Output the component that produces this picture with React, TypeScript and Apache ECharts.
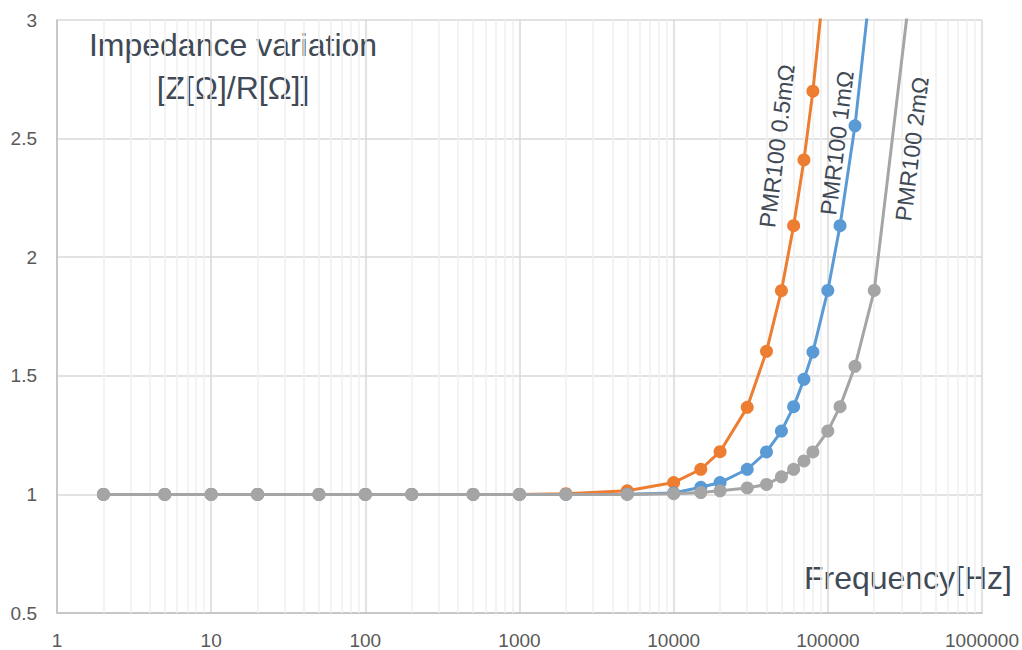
import React, { useEffect, useRef } from "react";
import * as echarts from "echarts";

const freqLow = [2, 5, 10, 20, 50, 100, 200, 500, 1000, 2000, 5000, 10000];

const freqA = [...freqLow, 15000, 20000, 30000, 40000, 50000, 60000, 70000, 80000, 100000];
const zA = [1, 1, 1, 1, 1, 1, 1, 1, 1, 1.003, 1.015, 1.05, 1.106, 1.18, 1.367, 1.603, 1.859, 2.133, 2.41, 2.7, 3.31];

const freqB = [...freqLow, 15000, 20000, 30000, 40000, 50000, 60000, 70000, 80000, 100000, 120000, 150000, 200000];
const zB = [1, 1, 1, 1, 1, 1, 1, 1, 1, 1, 1.001, 1.006, 1.03, 1.05, 1.106, 1.179, 1.267, 1.37, 1.485, 1.6, 1.86, 2.133, 2.554, 3.29];

const freqC = [...freqLow, 15000, 20000, 30000, 40000, 50000, 60000, 70000, 80000, 100000, 120000, 150000, 200000, 400000];
const zC = [1, 1, 1, 1, 1, 1, 1, 1, 1, 1, 1, 1.003, 1.008, 1.015, 1.027, 1.042, 1.074, 1.106, 1.141, 1.179, 1.267, 1.37, 1.54, 1.86, 3.5];

const seriesNames = ["PMR100 0.5mΩ", "PMR100 1mΩ", "PMR100 2mΩ"];
const seriesColors = ["#ED7D31", "#5B9BD5", "#A5A5A5"];

const decades = [1, 10, 100, 1000, 10000, 100000];
const minorMultipliers = [2, 3, 4, 5, 6, 7, 8, 9];

function pairs(xs: number[], ys: number[]) {
  return xs.map((x, i) => [x, ys[i]]);
}

export default function App() {
  const ref = useRef<HTMLDivElement>(null);
  useEffect(() => {
    if (!ref.current) return;
    const chart = echarts.init(ref.current, null, { renderer: "svg" });
    const minorLines: any[] = [];
    decades.forEach((d) => minorMultipliers.forEach((m) => minorLines.push({ xAxis: d * m })));
    const datasets = [pairs(freqA, zA), pairs(freqB, zB), pairs(freqC, zC)];
    const labelFont = "'Liberation Sans', Arial, sans-serif";
    const rot = (83 * Math.PI) / 180;
    const rotatedLabel = (i: number, x: number, y: number) => ({
      type: "text",
      x,
      y,
      rotation: rot,
      z: 20,
      style: {
        text: seriesNames[i],
        fill: "#3f4a56",
        font: `23px ${labelFont}`,
        textAlign: "center",
        textVerticalAlign: "middle",
      },
    });
    chart.setOption({
      animation: false,
      backgroundColor: "#ffffff",
      grid: { left: 57, right: 40, top: 20, bottom: 36, containLabel: false },
      xAxis: {
        type: "log",
        logBase: 10,
        min: 1,
        max: 1000000,
        axisLine: { show: true, lineStyle: { color: "#bfbfbf", width: 1.5 } },
        axisTick: { show: false },
        axisLabel: {
          color: "#595959",
          fontSize: 19,
          fontFamily: labelFont,
          margin: 18,
          formatter: (v: number) => String(Math.round(v)),
        },
        splitLine: { show: true, lineStyle: { color: "#d9d9d9", width: 1.5 } },
      },
      yAxis: {
        type: "value",
        min: 0.5,
        max: 3,
        interval: 0.5,
        axisLine: { show: true, lineStyle: { color: "#bfbfbf", width: 1.5 } },
        axisTick: { show: false },
        axisLabel: { color: "#595959", fontSize: 19, fontFamily: labelFont, margin: 20 },
        splitLine: { show: true, lineStyle: { color: "#d9d9d9", width: 1.5 } },
      },
      series: [
        {
          type: "line",
          data: [],
          z: 1,
          silent: true,
          markLine: {
            silent: true,
            z: 1,
            zlevel: 0,
            symbol: ["none", "none"],
            label: { show: false },
            emphasis: { disabled: true },
            lineStyle: { color: "#efefef", width: 1.5, type: "solid" },
            data: minorLines,
          },
        },
        ...datasets.map((d, i) => ({
          name: seriesNames[i],
          type: "line",
          data: d,
          z: 3 + i,
          symbol: "circle",
          symbolSize: 13,
          showSymbol: true,
          lineStyle: { color: seriesColors[i], width: 3 },
          itemStyle: { color: seriesColors[i] },
          clip: true,
        })),
      ],
      graphic: [
        {
          type: "text",
          x: 233,
          y: 45,
          style: {
            text: "Impedance variation",
            fill: "#3f4a56",
            font: `32px ${labelFont}`,
            textAlign: "center",
            textVerticalAlign: "middle",
          },
        },
        {
          type: "text",
          x: 233,
          y: 88,
          style: {
            text: "[Z[Ω]/R[Ω]]",
            fill: "#3f4a56",
            font: `32px ${labelFont}`,
            textAlign: "center",
            textVerticalAlign: "middle",
          },
        },
        {
          type: "text",
          x: 1012,
          y: 578,
          style: {
            text: "Frequency[Hz]",
            fill: "#3f4a56",
            font: `32px ${labelFont}`,
            textAlign: "right",
            textVerticalAlign: "middle",
          },
        },
        rotatedLabel(0, 777, 146),
        rotatedLabel(1, 837, 143),
        rotatedLabel(2, 912, 149),
      ],
    });
    return () => chart.dispose();
  }, []);
  return (
    <div
      ref={ref}
      style={{ position: "absolute", left: 0, top: 0, width: 1022, height: 650, background: "#fff" }}
    />
  );
}
